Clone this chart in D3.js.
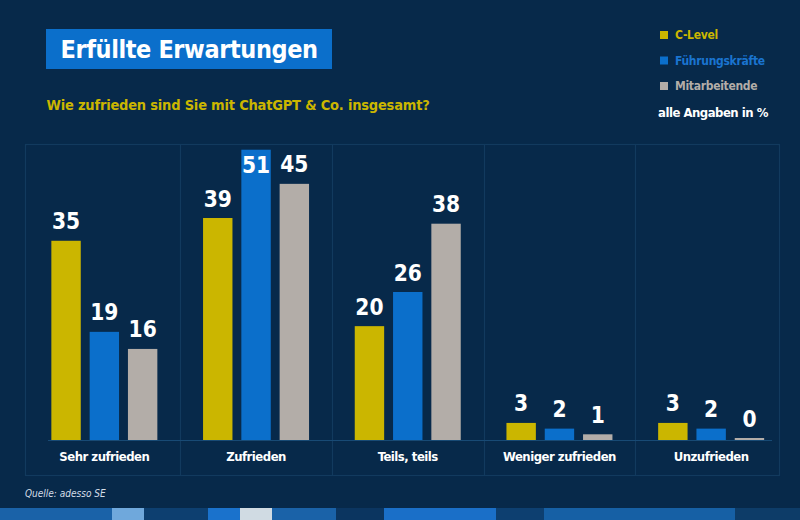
<!DOCTYPE html>
<html>
<head>
<meta charset="utf-8">
<script src="https://cdn.jsdelivr.net/npm/d3@7"></script>
<style>
  html, body { margin: 0; padding: 0; background: #07294a; }
  svg { display: block; }
  text { font-family: "DejaVu Sans Condensed", "DejaVu Sans", sans-serif; }
</style>
</head>
<body>
<svg id="chart" width="800" height="520"></svg>
<script>
// ---- data ----
const categories = ["Sehr zufrieden", "Zufrieden", "Teils, teils", "Weniger zufrieden", "Unzufrieden"];
const seriesNames = ["C-Level", "Führungskräfte", "Mitarbeitende"];
const cLevel = [35, 39, 20, 3, 3];
const fuehrungskraefte = [19, 51, 26, 2, 2];
const mitarbeitende = [16, 45, 38, 1, 0];
const seriesValues = [cLevel, fuehrungskraefte, mitarbeitende];
const titleText = "Erfüllte Erwartungen";
const subtitleText = "Wie zufrieden sind Sie mit ChatGPT & Co. insgesamt?";
const unitNote = "alle Angaben in %";
const sourceText = "Quelle: adesso SE";

// ---- styles ----
const colors = ["#cbb600", "#0b6fcb", "#b3ada8"];
const legendTextColors = ["#cbb600", "#1a74d0", "#b3ada8"];
const bg = "#07294a";
const gridColor = "#123a5e";

const svg = d3.select("#chart");
svg.append("rect").attr("width", 800).attr("height", 520).attr("fill", bg);

// bottom stripe
const stripe = [
  [0, 112, "#1a62a8"], [112, 144, "#6fa8dc"], [144, 208, "#0d3f70"], [208, 240, "#1a72cc"],
  [240, 272, "#d0dbe3"], [272, 336, "#1a62a8"], [336, 384, "#0b3560"], [384, 496, "#1a6fc8"],
  [496, 544, "#0d3f70"], [544, 735, "#1660a5"], [735, 800, "#0d3c68"]
];
svg.append("g").selectAll("rect").data(stripe).join("rect")
  .attr("x", d => d[0]).attr("y", 508).attr("width", d => d[1] - d[0]).attr("height", 12)
  .attr("fill", d => d[2]);

// title
svg.append("rect").attr("x", 46).attr("y", 29).attr("width", 286).attr("height", 40).attr("fill", "#0b6fcb");
svg.append("text").attr("x", 60.5).attr("y", 57.5).attr("fill", "#fff")
  .attr("font-size", 25).attr("font-weight", "bold").attr("letter-spacing", -0.4).text(titleText);
svg.append("text").attr("x", 46.5).attr("y", 110).attr("fill", "#cbb600")
  .attr("font-size", 14.5).attr("font-weight", "bold").attr("letter-spacing", -0.2).text(subtitleText);

// legend
const legend = svg.append("g");
seriesNames.forEach((s, i) => {
  const cy = 35 + i * 25.5;
  legend.append("rect").attr("x", 660).attr("y", cy - 4).attr("width", 8).attr("height", 8).attr("fill", colors[i]);
  legend.append("text").attr("x", 675).attr("y", cy).attr("dy", "0.35em")
    .attr("fill", legendTextColors[i]).attr("font-size", 12).attr("font-weight", "bold")
    .attr("letter-spacing", -0.3).text(s);
});
legend.append("text").attr("x", 658).attr("y", 112).attr("dy", "0.35em")
  .attr("fill", "#fff").attr("font-size", 13).attr("font-weight", "bold")
  .attr("letter-spacing", -0.5).text(unitNote);

// scales
const x0 = d3.scaleBand().domain(categories).range([28.5, 787]).paddingInner(0).paddingOuter(0);
const x1 = d3.scaleBand().domain(seriesNames).range([-53, 53]).paddingInner(0.232).paddingOuter(0);
const y = d3.scaleLinear().domain([0, 51]).range([440, 149.7]);

// panel frame
const panelTop = 144.5, panelBottom = 475.5, panelLeft = 25.5, panelRight = 779.5;
svg.append("rect").attr("x", panelLeft).attr("y", panelTop)
  .attr("width", panelRight - panelLeft).attr("height", panelBottom - panelTop)
  .attr("fill", "none").attr("stroke", gridColor).attr("stroke-width", 1.2);
svg.append("g").selectAll("line").data(categories.slice(1)).join("line")
  .attr("x1", d => Math.round(x0(d)) + 0.5).attr("x2", d => Math.round(x0(d)) + 0.5)
  .attr("y1", panelTop).attr("y2", panelBottom)
  .attr("stroke", gridColor).attr("stroke-width", 1.2);
// baseline
svg.append("line").attr("x1", 48).attr("x2", 772).attr("y1", 440.5).attr("y2", 440.5)
  .attr("stroke", "#184a75").attr("stroke-width", 1.2);

// bars
const flat = [];
categories.forEach((c, ci) => {
  seriesNames.forEach((s, si) => {
    flat.push({ cat: c, series: s, si, value: seriesValues[si][ci] });
  });
});
const cx = c => x0(c) + x0.bandwidth() / 2;
const bars = svg.append("g");
bars.selectAll("rect").data(flat).join("rect")
  .attr("x", d => cx(d.cat) + x1(d.series))
  .attr("width", x1.bandwidth())
  .attr("y", d => Math.min(y(d.value), y(0) - 2))
  .attr("height", d => Math.max(y(0) - y(d.value), 2))
  .attr("fill", d => colors[d.si]);

// value labels
svg.append("g").selectAll("text").data(flat).join("text")
  .attr("x", d => cx(d.cat) + x1(d.series) + x1.bandwidth() / 2)
  .attr("y", d => {
    const top = Math.min(y(d.value), y(0) - 2);
    let ly = top - 11.5;
    if (ly - 17 < panelTop) ly = top + 23.5;
    return ly;
  })
  .attr("text-anchor", "middle").attr("fill", "#fff")
  .attr("font-size", 22.5).attr("font-weight", "bold")
  .text(d => d.value);

// category labels
svg.append("g").selectAll("text").data(categories).join("text")
  .attr("x", d => cx(d)).attr("y", 456).attr("dy", "0.35em")
  .attr("text-anchor", "middle").attr("fill", "#fff")
  .attr("font-size", 13).attr("font-weight", "bold").attr("letter-spacing", -0.5).text(d => d);

// source
svg.append("text").attr("x", 25).attr("y", 493).attr("dy", "0.35em")
  .attr("fill", "#d5dee8").attr("font-size", 10).attr("font-style", "italic").text(sourceText);
</script>
</body>
</html>
